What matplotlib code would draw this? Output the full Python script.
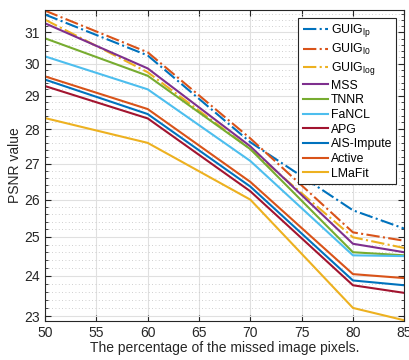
import matplotlib
matplotlib.use('Agg')
import matplotlib.pyplot as plt
from matplotlib.ticker import FixedLocator, FixedFormatter, NullFormatter
import numpy as np

plt.rcParams['font.family'] = ['Liberation Sans', 'DejaVu Sans']
plt.rcParams['mathtext.fontset'] = 'custom'
plt.rcParams['mathtext.rm'] = 'Liberation Sans'

# missed pixel percentage
x = [50, 60, 70, 80, 85]

# PSNR values
guig_lp = [31.59, 30.26, 27.62, 25.71, 25.22]
guig_l0 = [31.72, 30.36, 27.73, 25.12, 24.90]
guig_log = [31.42, 29.73, 27.42, 24.99, 24.71]
mss = [31.30, 29.85, 27.50, 24.82, 24.60]
tnnr = [30.81, 29.62, 27.42, 24.60, 24.52]
fancl = [30.23, 29.20, 27.08, 24.52, 24.50]
apg = [29.30, 28.32, 26.23, 23.76, 23.57]
ais = [29.50, 28.45, 26.36, 23.88, 23.76]
active = [29.60, 28.60, 26.49, 24.04, 23.94]
lmafit = [28.33, 27.60, 26.00, 23.20, 22.90]

labels = [r'GUIG$_{\mathrm{lp}}$', r'GUIG$_{\mathrm{l0}}$', r'GUIG$_{\mathrm{log}}$',
          'MSS', 'TNNR', 'FaNCL', 'APG', 'AIS-Impute', 'Active', 'LMaFit']
xticks = [50, 55, 60, 65, 70, 75, 80, 85]
yticks = [23, 24, 25, 26, 27, 28, 29, 30, 31]

# matlab default colour order
blue = (0, 0.447, 0.741)
orange = (0.85, 0.325, 0.098)
yellow = (0.929, 0.694, 0.125)
purple = (0.494, 0.184, 0.556)
green = (0.466, 0.674, 0.188)
lblue = (0.301, 0.745, 0.933)
red = (0.635, 0.078, 0.184)

series = [guig_lp, guig_l0, guig_log, mss, tnnr, fancl, apg, ais, active, lmafit]
colors = [blue, orange, yellow, purple, green, lblue, red, blue, orange, yellow]
styles = ['-.', '-.', '-.', '-', '-', '-', '-', '-', '-', '-']

fig = plt.figure(figsize=(4.1, 3.6), dpi=100)
ax = fig.add_axes([0.110, 0.108, 0.876, 0.864])

for s, c, ls, lab in zip(series, colors, styles, labels):
    ax.plot(x, s, color=c, linestyle=ls, linewidth=1.5, label=lab)

ax.set_yscale('log')
ax.set_xlim(50, 85)
ax.set_ylim(22.88, 31.74)
ax.xaxis.set_major_locator(FixedLocator(xticks))
ax.xaxis.set_minor_locator(FixedLocator([]))
ax.yaxis.set_major_locator(FixedLocator(yticks))
ax.yaxis.set_major_formatter(FixedFormatter([str(t) for t in yticks]))
minor = [v for v in np.arange(22.8, 31.8, 0.2) if abs(v - round(v)) > 0.05]
ax.yaxis.set_minor_locator(FixedLocator(minor))
ax.yaxis.set_minor_formatter(NullFormatter())

ax.grid(which='major', color='#e0e0e0', linewidth=0.8)
ax.grid(which='minor', axis='y', color='#c0c0c0', linestyle=(0, (1, 3)), linewidth=0.6)
ax.set_axisbelow(True)

ax.tick_params(which='both', direction='in', top=True, right=True, labelsize=10, colors='#262626')
ax.tick_params(which='major', length=4)
ax.tick_params(which='minor', length=2)
for sp in ax.spines.values():
    sp.set_color('#262626')
    sp.set_linewidth(0.8)

ax.set_xlabel('The percentage of the missed image pixels.', fontsize=10, color='#262626', labelpad=1)
ax.set_ylabel('PSNR value', fontsize=10, color='#262626', labelpad=2)

leg = ax.legend(loc='upper right', fontsize=8.8, handlelength=2.1, labelspacing=0.22,
                borderpad=0.35, handletextpad=0.2, borderaxespad=0, fancybox=False,
                framealpha=1, edgecolor='#262626', bbox_to_anchor=(0.978, 0.974))
leg.get_frame().set_linewidth(0.8)

fig.savefig('out.png', dpi=100)
